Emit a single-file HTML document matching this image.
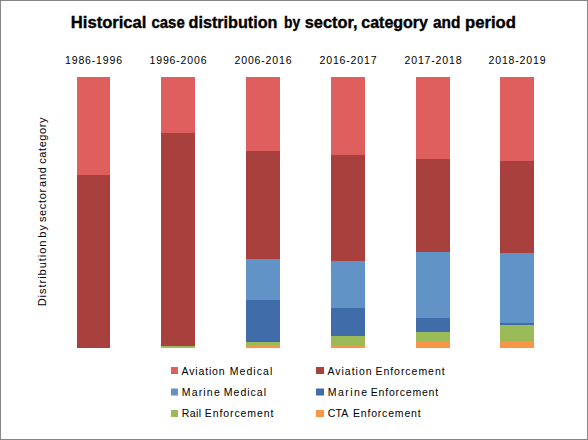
<!DOCTYPE html>
<html><head><meta charset="utf-8"><style>
html,body{margin:0;padding:0;background:#fff;}
svg{display:block;}
text{font-family:"Liberation Sans",sans-serif;fill:#000;}
.title{font-weight:bold;font-size:16px;stroke:#000;stroke-width:0.35px;}
.cat{font-size:10.5px;}
.leg{font-size:10.5px;}
.ylab{font-size:11px;}
</style></head><body>
<svg width="588" height="440" viewBox="0 0 588 440">
<rect x="0" y="0" width="588" height="440" fill="#fff"/>
<rect x="0.5" y="0.5" width="587" height="439" fill="none" stroke="#868686" stroke-width="1"/>
<rect x="77" y="77" width="33" height="98" fill="#DF5E5E"/>
<rect x="77" y="175" width="33" height="173" fill="#A8403E"/>
<text x="93.5" y="64" text-anchor="middle" class="cat" textLength="57" lengthAdjust="spacing">1986-1996</text>
<rect x="161" y="77" width="34" height="56" fill="#DF5E5E"/>
<rect x="161" y="133" width="34" height="213" fill="#A8403E"/>
<rect x="161" y="346" width="34" height="1" fill="#9BBB59"/>
<rect x="161" y="347" width="34" height="1" fill="#F79646"/>
<text x="178.0" y="64" text-anchor="middle" class="cat" textLength="57" lengthAdjust="spacing">1996-2006</text>
<rect x="246" y="77" width="34" height="74" fill="#DF5E5E"/>
<rect x="246" y="151" width="34" height="108" fill="#A8403E"/>
<rect x="246" y="259" width="34" height="41" fill="#6293C7"/>
<rect x="246" y="300" width="34" height="42" fill="#406CAA"/>
<rect x="246" y="342" width="34" height="3" fill="#9BBB59"/>
<rect x="246" y="345" width="34" height="3" fill="#F79646"/>
<text x="263.0" y="64" text-anchor="middle" class="cat" textLength="57" lengthAdjust="spacing">2006-2016</text>
<rect x="331" y="77" width="34" height="78" fill="#DF5E5E"/>
<rect x="331" y="155" width="34" height="106" fill="#A8403E"/>
<rect x="331" y="261" width="34" height="47" fill="#6293C7"/>
<rect x="331" y="308" width="34" height="28" fill="#406CAA"/>
<rect x="331" y="336" width="34" height="10" fill="#9BBB59"/>
<rect x="331" y="346" width="34" height="2" fill="#F79646"/>
<text x="348.0" y="64" text-anchor="middle" class="cat" textLength="57" lengthAdjust="spacing">2016-2017</text>
<rect x="416" y="77" width="34" height="82" fill="#DF5E5E"/>
<rect x="416" y="159" width="34" height="93" fill="#A8403E"/>
<rect x="416" y="252" width="34" height="66" fill="#6293C7"/>
<rect x="416" y="318" width="34" height="14" fill="#406CAA"/>
<rect x="416" y="332" width="34" height="10" fill="#9BBB59"/>
<rect x="416" y="342" width="34" height="6" fill="#F79646"/>
<text x="433.0" y="64" text-anchor="middle" class="cat" textLength="57" lengthAdjust="spacing">2017-2018</text>
<rect x="500" y="77" width="34" height="84" fill="#DF5E5E"/>
<rect x="500" y="161" width="34" height="92" fill="#A8403E"/>
<rect x="500" y="253" width="34" height="70" fill="#6293C7"/>
<rect x="500" y="323" width="34" height="2" fill="#406CAA"/>
<rect x="500" y="325" width="34" height="16" fill="#9BBB59"/>
<rect x="500" y="341" width="34" height="7" fill="#F79646"/>
<text x="517.0" y="64" text-anchor="middle" class="cat" textLength="57" lengthAdjust="spacing">2018-2019</text>
<rect x="171" y="367" width="7" height="7" fill="#DF5E5E"/>
<rect x="316" y="367" width="8" height="7" fill="#A8403E"/>
<rect x="171" y="388.5" width="7" height="7" fill="#6293C7"/>
<rect x="316" y="388.5" width="8" height="7" fill="#406CAA"/>
<rect x="171" y="410" width="7" height="7" fill="#9BBB59"/>
<rect x="316" y="410" width="8" height="7" fill="#F79646"/>
<text x="181.58" y="374.75" class="leg" textLength="43.06" lengthAdjust="spacing">Aviation</text>
<text x="229.78" y="374.75" class="leg" textLength="42.44" lengthAdjust="spacing">Medical</text>
<text x="181.78" y="395.75" class="leg" textLength="37.94" lengthAdjust="spacing">Marine</text>
<text x="223.84" y="395.75" class="leg" textLength="42.16" lengthAdjust="spacing">Medical</text>
<text x="181.78" y="417.4" class="leg" textLength="19.22" lengthAdjust="spacing">Rail</text>
<text x="204.78" y="417.4" class="leg" textLength="68.64" lengthAdjust="spacing">Enforcement</text>
<text x="327.50" y="374.75" class="leg" textLength="44.08" lengthAdjust="spacing">Aviation</text>
<text x="375.42" y="374.75" class="leg" textLength="69.22" lengthAdjust="spacing">Enforcement</text>
<text x="327.78" y="395.75" class="leg" textLength="39.22" lengthAdjust="spacing">Marine</text>
<text x="370.84" y="395.75" class="leg" textLength="67.22" lengthAdjust="spacing">Enforcement</text>
<text x="327.78" y="417.4" class="leg" textLength="20.50" lengthAdjust="spacing">CTA</text>
<text x="352.92" y="417.4" class="leg" textLength="67.72" lengthAdjust="spacing">Enforcement</text>
<text x="70.82" y="27.6" class="title" textLength="75.62" lengthAdjust="spacingAndGlyphs">Historical</text>
<text x="151.48" y="27.6" class="title" textLength="33.28" lengthAdjust="spacingAndGlyphs">case</text>
<text x="188.54" y="27.6" class="title" textLength="88.94" lengthAdjust="spacingAndGlyphs">distribution</text>
<text x="284.06" y="27.6" class="title" textLength="16.18" lengthAdjust="spacingAndGlyphs">by</text>
<text x="304.78" y="27.6" class="title" textLength="52.66" lengthAdjust="spacingAndGlyphs">sector,</text>
<text x="361.28" y="27.6" class="title" textLength="66.72" lengthAdjust="spacingAndGlyphs">category</text>
<text x="433.00" y="27.6" class="title" textLength="27.44" lengthAdjust="spacingAndGlyphs">and</text>
<text x="465.04" y="27.6" class="title" textLength="50.90" lengthAdjust="spacingAndGlyphs">period</text>
<text transform="translate(46.2,0) rotate(-90)" x="-306.30" y="0" class="ylab" textLength="65.74" lengthAdjust="spacing">Distribution</text>
<text transform="translate(46.2,0) rotate(-90)" x="-237.80" y="0" class="ylab" textLength="12.86" lengthAdjust="spacing">by</text>
<text transform="translate(46.2,0) rotate(-90)" x="-222.00" y="0" class="ylab" textLength="33.06" lengthAdjust="spacing">sector</text>
<text transform="translate(46.2,0) rotate(-90)" x="-186.90" y="0" class="ylab" textLength="19.90" lengthAdjust="spacing">and</text>
<text transform="translate(46.2,0) rotate(-90)" x="-163.68" y="0" class="ylab" textLength="46.06" lengthAdjust="spacing">category</text>
</svg>
</body></html>
